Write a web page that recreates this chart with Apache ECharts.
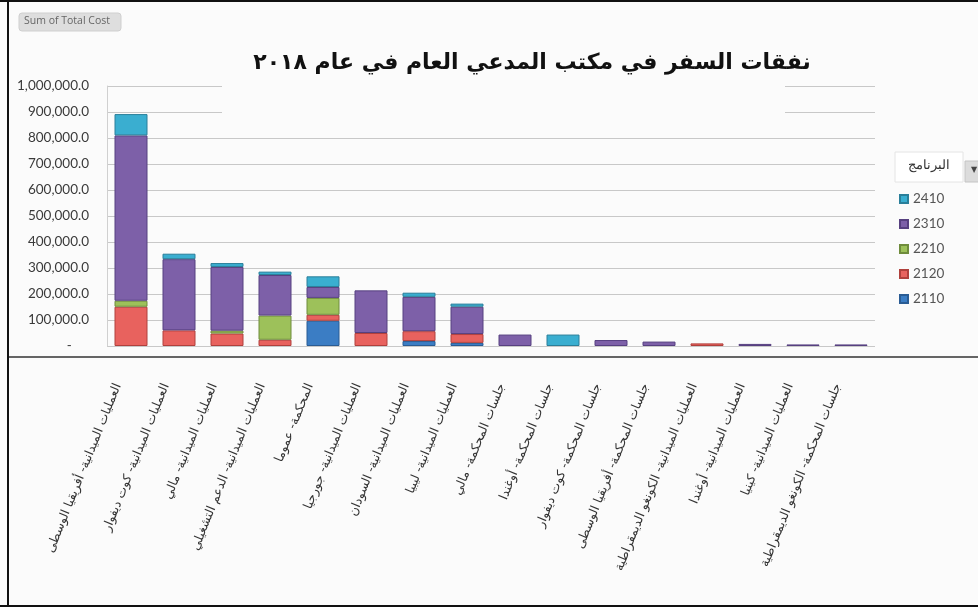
<!DOCTYPE html>
<html><head><meta charset="utf-8">
<script src="https://cdn.jsdelivr.net/npm/echarts@6/dist/echarts.min.js"></script>
<style>html,body{margin:0;padding:0;background:#fbfbfb}#c{width:978px;height:607px}</style>
</head><body><div id="c"></div>
<script>
const titleText = 'نفقات السفر في مكتب المدعي العام في عام ٢٠١٨';
const legendTitle = 'البرنامج';
const fieldButton = 'Sum of Total Cost';
const categories = [
  'العمليات الميدانية- أفريقيا الوسطى',
  'العمليات الميدانية- كوت ديفوار',
  'العمليات الميدانية- مالي',
  'العمليات الميدانية- الدعم التشغيلي',
  'المحكمة- عموما',
  'العمليات الميدانية- جورجيا',
  'العمليات الميدانية- السودان',
  'العمليات الميدانية- ليبيا',
  'جلسات المحكمة- مالي',
  'جلسات المحكمة- أوغندا',
  'جلسات المحكمة- كوت ديفوار',
  'جلسات المحكمة- أفريقيا الوسطى',
  'العمليات الميدانية- الكونغو الديمقراطية',
  'العمليات الميدانية- أوغندا',
  'العمليات الميدانية- كينيا',
  'جلسات المحكمة- الكونغو الديمقراطية'
];
const seriesNames = ['2110', '2120', '2210', '2310', '2410'];
const legendOrder = ['2410', '2310', '2210', '2120', '2110'];
const v2110 = [0, 0, 0, 0, 97000, 0, 19000, 12000, 0, 0, 0, 0, 0, 0, 0, 0];
const v2120 = [151000, 60000, 48000, 24000, 23000, 50000, 38000, 34000, 0, 0, 0, 0, 10000, 0, 0, 0];
const v2210 = [23000, 0, 11000, 93000, 65000, 0, 0, 0, 0, 0, 0, 0, 0, 0, 0, 0];
const v2310 = [636000, 274000, 245000, 156000, 42000, 164000, 132000, 105000, 44000, 0, 23000, 17000, 0, 8000, 6000, 6000];
const v2410 = [82000, 21000, 15000, 13000, 41000, 0, 16000, 12000, 0, 44000, 0, 0, 0, 0, 0, 0];
const yMin = 0, yMax = 1000000, yStep = 100000;

const values = [v2110, v2120, v2210, v2310, v2410];
const fills = ['#3b7dc4', '#e8625e', '#9dc15a', '#7d60a8', '#3aaed0'];
const edges = ['#2a5c94', '#b0403c', '#6f8c3c', '#574080', '#2a7f9a'];

const chart = echarts.init(document.getElementById('c'), null, {renderer: 'canvas'});
const series = seriesNames.map((n, i) => ({
  name: n, type: 'bar', stack: 'total', barWidth: 33,
  xAxisIndex: 0, yAxisIndex: 0,
  data: values[i].map(v => v === 0 ? null : v),
  itemStyle: {color: fills[i], borderColor: edges[i], borderWidth: 1}
}));

chart.setOption({
  backgroundColor: '#fbfbfb',
  animation: false,
  title: {
    text: titleText, left: 527, top: 47, textAlign: 'center', z: 200,
    textStyle: {fontFamily: 'DejaVu Sans', fontWeight: 'bold', fontSize: 22, color: '#111'}
  },
  legend: {
    data: legendOrder, orient: 'vertical', left: 894, top: 187, itemGap: 11,
    icon: 'rect', itemWidth: 8, itemHeight: 8,
    textStyle: {fontFamily: 'Lato', fontSize: 13.5, color: '#555'}
  },
  grid: [
    {left: 107, right: 103, top: 86, bottom: 261},
    {left: 94, right: 116, top: 86, bottom: 261}
  ],
  xAxis: [
    {type: 'category', gridIndex: 0, data: categories,
      axisLine: {show: false}, axisTick: {show: false}, axisLabel: {show: false}},
    {type: 'category', gridIndex: 1, data: categories,
      axisLine: {show: false}, axisTick: {show: false},
      axisLabel: {interval: 0, rotate: 68, margin: 38,
        fontFamily: 'DejaVu Sans', fontSize: 12.5, color: '#333'}}
  ],
  yAxis: [
    {type: 'value', gridIndex: 0, min: yMin, max: yMax, interval: yStep,
      axisLine: {show: true, lineStyle: {color: '#d0d0d0'}},
      axisTick: {show: false},
      splitLine: {lineStyle: {color: '#c8c8c8', width: 1}},
      axisLabel: {margin: 18, fontFamily: 'Lato', fontSize: 13.5, color: '#3a3a3a',
        formatter: v => v === 0 ? '-     ' : v.toLocaleString('en-US', {minimumFractionDigits: 1, maximumFractionDigits: 1})}},
    {type: 'value', gridIndex: 1, min: yMin, max: yMax, show: false}
  ],
  graphic: [
    {type: 'rect', z: 100, shape: {x: 222, y: 68, width: 563, height: 56}, style: {fill: '#fbfbfb'}},
    {type: 'rect', z: 100, shape: {x: 19, y: 13, width: 102, height: 18, r: 3}, style: {fill: '#dedede', stroke: '#cfcfcf'}},
    {type: 'text', z: 101, x: 24, y: 16, style: {text: fieldButton, font: '10.5px "Open Sans"', fill: '#666'}},
    {type: 'rect', z: 100, shape: {x: 895, y: 152, width: 68, height: 30}, style: {fill: '#ffffff', stroke: '#e4e4e4'}},
    {type: 'text', z: 101, x: 929, y: 159, style: {text: legendTitle, font: '13px "DejaVu Serif"', fill: '#333', align: 'center'}},
    {type: 'rect', z: 100, shape: {x: 965, y: 161, width: 16, height: 21}, style: {fill: '#dcdcdc', stroke: '#c4c4c4'}},
    {type: 'text', z: 101, x: 971, y: 166, style: {text: '▼', font: '8px "DejaVu Sans"', fill: '#444'}},
    {type: 'line', z: 100, shape: {x1: 8, y1: 357, x2: 978, y2: 357}, style: {stroke: '#333', lineWidth: 1.5}},
    {type: 'line', z: 100, shape: {x1: 8, y1: 0, x2: 8, y2: 607}, style: {stroke: '#111', lineWidth: 2}},
    {type: 'line', z: 100, shape: {x1: 0, y1: 1, x2: 978, y2: 1}, style: {stroke: '#111', lineWidth: 2}},
    {type: 'line', z: 100, shape: {x1: 0, y1: 606, x2: 978, y2: 606}, style: {stroke: '#111', lineWidth: 2}}
  ],
  series: series
});
</script></body></html>
